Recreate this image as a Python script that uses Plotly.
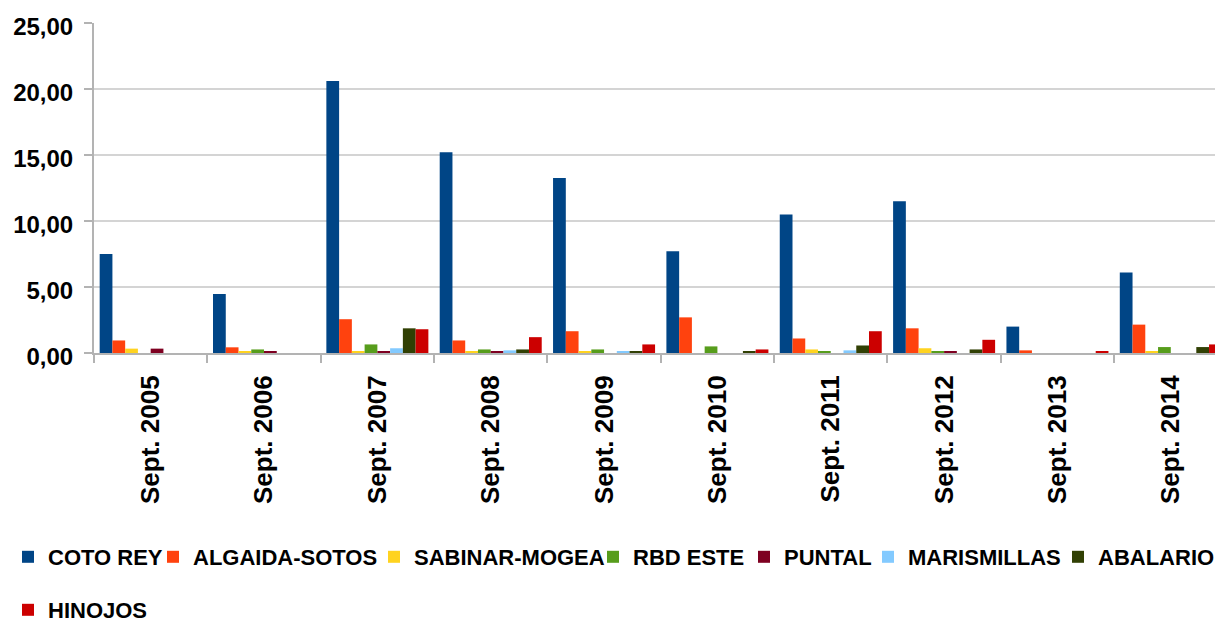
import plotly.graph_objects as go

categories = ["Sept. 2005", "Sept. 2006", "Sept. 2007", "Sept. 2008", "Sept. 2009",
              "Sept. 2010", "Sept. 2011", "Sept. 2012", "Sept. 2013", "Sept. 2014"]

coto_rey      = [7.50, 4.47, 20.60, 15.20, 13.25, 7.70, 10.50, 11.50, 2.00, 6.10]
algaida_sotos = [0.95, 0.43, 2.56, 0.95, 1.65, 2.70, 1.10, 1.87, 0.20, 2.15]
sabinar_mogea = [0.33, 0.12, 0.10, 0.10, 0.10, 0.00, 0.27, 0.36, 0.00, 0.10]
rbd_este      = [0.00, 0.27, 0.65, 0.27, 0.27, 0.50, 0.10, 0.10, 0.00, 0.45]
puntal        = [0.33, 0.12, 0.10, 0.10, 0.00, 0.00, 0.00, 0.10, 0.00, 0.00]
marismillas   = [0.00, 0.00, 0.36, 0.20, 0.10, 0.00, 0.20, 0.00, 0.00, 0.00]
abalario      = [0.00, 0.00, 1.87, 0.27, 0.10, 0.10, 0.57, 0.27, 0.00, 0.45]
hinojos       = [0.00, 0.00, 1.80, 1.20, 0.65, 0.27, 1.65, 1.00, 0.10, 0.65]

series_names = ["COTO REY", "ALGAIDA-SOTOS", "SABINAR-MOGEA", "RBD ESTE",
                "PUNTAL", "MARISMILLAS", "ABALARIO", "HINOJOS"]
series_values = [coto_rey, algaida_sotos, sabinar_mogea, rbd_este,
                 puntal, marismillas, abalario, hinojos]
colors = ["#004586", "#ff420e", "#ffd320", "#579d1c",
          "#7e0021", "#83caff", "#314004", "#cc0000"]

# legend entry placement (page pixel start of label text, row centre)
legend_px = [(47, 557), (192, 557), (413, 557), (632, 557),
             (783, 557), (907, 557), (1097, 557), (47, 610)]

FONT = "Liberation Sans"
W, H = 1215, 623

fig = go.Figure()
legend_layout = {}
for i, (name, vals, col) in enumerate(zip(series_names, series_values, colors)):
    key = "legend" if i == 0 else f"legend{i + 1}"
    fig.add_trace(go.Bar(
        x=categories, y=vals, name=name, marker=dict(color=col, line=dict(width=0)),
        legend=key,
    ))
    tx, cy = legend_px[i]
    legend_layout[key] = dict(
        orientation="h", xref="container", yref="container",
        x=(tx - 39) / W, xanchor="left",
        y=1 - cy / H, yanchor="middle",
        font=dict(family=FONT, size=22, color="black", weight="bold"),
        bgcolor="rgba(0,0,0,0)", borderwidth=0,
    )

fig.update_layout(
    width=W, height=H,
    margin=dict(l=94, r=0, t=23, b=270, autoexpand=False),
    barmode="group", bargap=0.1, bargroupgap=0,
    plot_bgcolor="white", paper_bgcolor="white",
    separators=",.",
    font=dict(family=FONT, size=22, color="black", weight="bold"),
    showlegend=True,
    **legend_layout,
)

fig.update_xaxes(
    type="category", range=[-0.5, 9.39], automargin=False,
    showline=True, linecolor="#b3b3b3", linewidth=2,
    ticks="outside", tickson="boundaries", ticklen=8, tickcolor="#b3b3b3", tickwidth=2,
    tickangle=-90, ticklabelstandoff=10,
    tickfont=dict(family=FONT, size=26, color="black", weight="bold"),
    showgrid=False,
)
fig.update_yaxes(
    range=[0, 25], dtick=5, tickformat=".2f", automargin=False,
    showline=True, linecolor="#b3b3b3", linewidth=2,
    ticks="outside", ticklen=8, tickcolor="#b3b3b3", tickwidth=2,
    ticklabelstandoff=6, ticklabelshift=4,
    showgrid=True, gridcolor="#d4d4d4", gridwidth=2,
    zeroline=False,
    tickfont=dict(family=FONT, size=24, color="black", weight="bold"),
)

fig.write_html(
    "out.html",
    config={"displayModeBar": False},
    post_script="document.body.style.margin='0';document.body.style.overflow='hidden';",
)
